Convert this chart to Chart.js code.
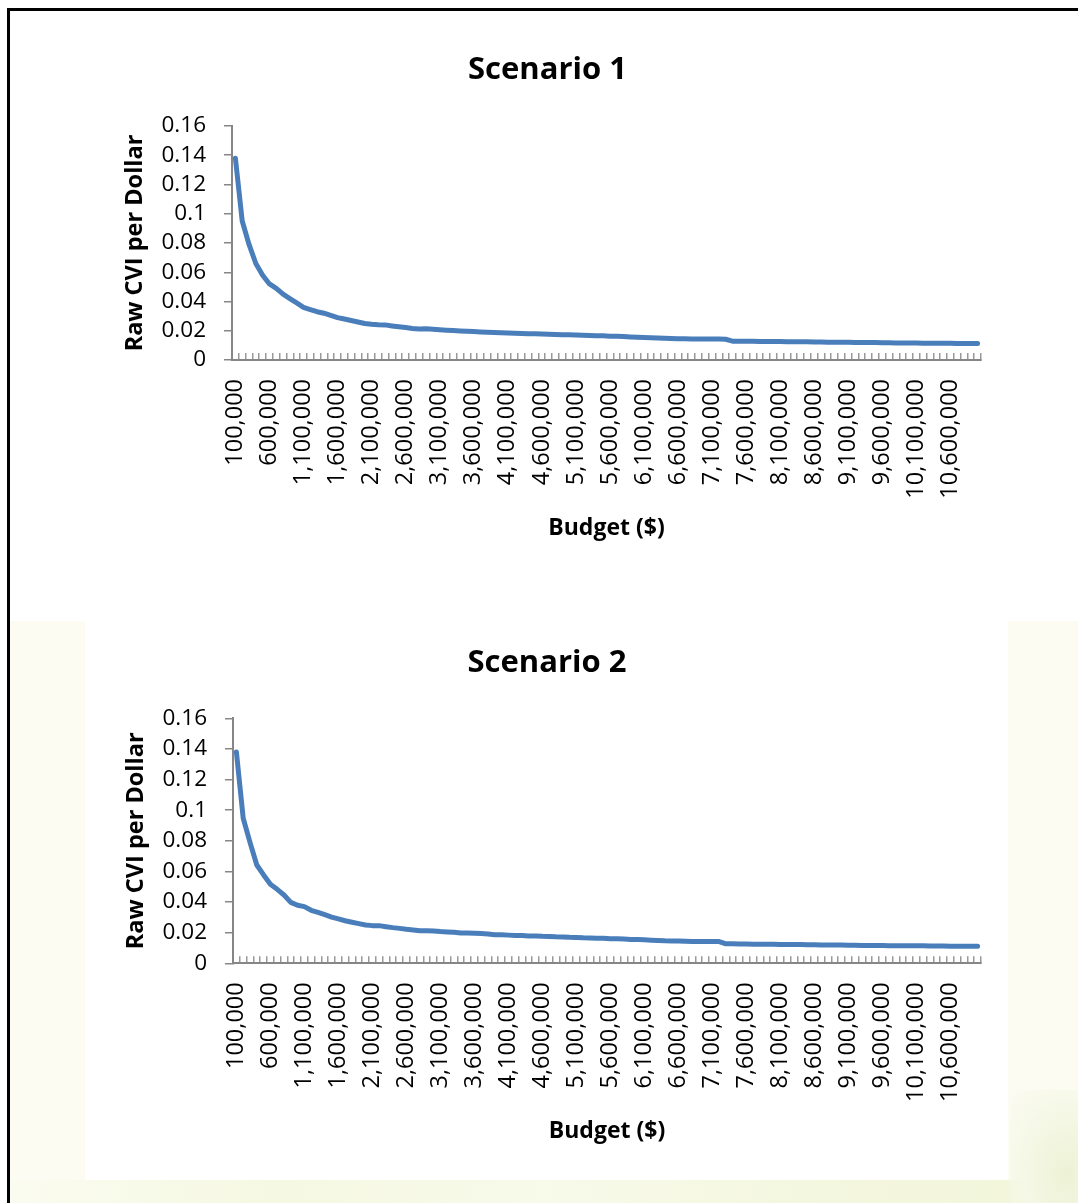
<!DOCTYPE html>
<html>
<head>
<meta charset="utf-8">
<script src="https://cdn.jsdelivr.net/npm/chart.js@4.4.1/dist/chart.umd.min.js"></script>
<style>
  html, body { margin:0; padding:0; background:#ffffff; }
  #page { position:relative; width:1078px; height:1203px; overflow:hidden; background:#ffffff; }
  .layer { position:absolute; }
  canvas { position:absolute; left:0; }
</style>
</head>
<body>
<div id="page">
  <div class="layer" style="left:10px;top:621px;width:1068px;height:582px;background:#fcfcf3;"></div>
  <div class="layer" style="left:10px;top:1180px;width:1068px;height:23px;background:linear-gradient(to right,#fbfcf0 0%,#f5f8e2 25%,#f8faea 50%,#f4f7df 75%,#f2f6da 100%);"></div>
  <div class="layer" style="left:1010px;top:1090px;width:68px;height:113px;background:radial-gradient(ellipse at 85% 75%,#edf2d6 0%,#f5f8e6 55%,rgba(252,252,243,0) 100%);"></div>
  <div class="layer" style="left:85px;top:621px;width:923px;height:559px;background:#ffffff;"></div>
  <div class="layer" style="left:7px;top:8px;width:1075px;height:1200px;border-top:3px solid #000;border-left:3px solid #000;"></div>
  <canvas id="c1" width="1078" height="600" style="top:0px;"></canvas>
  <canvas id="c2" width="1078" height="603" style="top:600px;"></canvas>
</div>
<script>
// ---- Data ----
const budgets = [
  100000, 200000, 300000, 400000, 500000, 600000, 700000, 800000, 900000, 1000000,
  1100000, 1200000, 1300000, 1400000, 1500000, 1600000, 1700000, 1800000, 1900000, 2000000,
  2100000, 2200000, 2300000, 2400000, 2500000, 2600000, 2700000, 2800000, 2900000, 3000000,
  3100000, 3200000, 3300000, 3400000, 3500000, 3600000, 3700000, 3800000, 3900000, 4000000,
  4100000, 4200000, 4300000, 4400000, 4500000, 4600000, 4700000, 4800000, 4900000, 5000000,
  5100000, 5200000, 5300000, 5400000, 5500000, 5600000, 5700000, 5800000, 5900000, 6000000,
  6100000, 6200000, 6300000, 6400000, 6500000, 6600000, 6700000, 6800000, 6900000, 7000000,
  7100000, 7200000, 7300000, 7400000, 7500000, 7600000, 7700000, 7800000, 7900000, 8000000,
  8100000, 8200000, 8300000, 8400000, 8500000, 8600000, 8700000, 8800000, 8900000, 9000000,
  9100000, 9200000, 9300000, 9400000, 9500000, 9600000, 9700000, 9800000, 9900000, 10000000,
  10100000, 10200000, 10300000, 10400000, 10500000, 10600000, 10700000, 10800000, 10900000, 11000000
];
const shownTickLabels = [
  "100,000", "600,000", "1,100,000", "1,600,000", "2,100,000", "2,600,000", "3,100,000",
  "3,600,000", "4,100,000", "4,600,000", "5,100,000", "5,600,000", "6,100,000", "6,600,000",
  "7,100,000", "7,600,000", "8,100,000", "8,600,000", "9,100,000", "9,600,000", "10,100,000", "10,600,000"
];
const yTickValues = [0, 0.02, 0.04, 0.06, 0.08, 0.1, 0.12, 0.14, 0.16];

const scenario1 = [
  0.138, 0.095, 0.079, 0.066, 0.058, 0.052, 0.049, 0.045, 0.042, 0.039,
  0.036, 0.0345, 0.033, 0.032, 0.0305, 0.029, 0.028, 0.027, 0.026, 0.025,
  0.0244, 0.0241, 0.0240, 0.0233, 0.0227, 0.0222, 0.0216, 0.0212, 0.0213, 0.0211,
  0.0207, 0.0204, 0.0201, 0.0199, 0.0197, 0.0195, 0.0192, 0.0190, 0.0188, 0.0186,
  0.0184, 0.0183, 0.0181, 0.0180, 0.0179, 0.0178, 0.0176, 0.0175, 0.0173, 0.0172,
  0.0171, 0.0169, 0.0168, 0.0166, 0.0165, 0.0163, 0.0162, 0.0160, 0.0158, 0.0156,
  0.0154, 0.0152, 0.0150, 0.0148, 0.0147, 0.0146, 0.0145, 0.0144, 0.0144, 0.0143,
  0.0143, 0.0143, 0.0142, 0.0129, 0.0129, 0.0128, 0.0128, 0.0127, 0.0127, 0.0126,
  0.0126, 0.0125, 0.0125, 0.0124, 0.0124, 0.0123, 0.0123, 0.0122, 0.0122, 0.0121,
  0.0121, 0.0120, 0.0120, 0.0119, 0.0119, 0.0118, 0.0118, 0.0117, 0.0117, 0.0116,
  0.0116, 0.0115, 0.0115, 0.0114, 0.0114, 0.0114, 0.0113, 0.0113, 0.0113, 0.0112
];
const scenario2 = [
  0.138, 0.0947, 0.079, 0.0642, 0.0577, 0.0516, 0.0483, 0.0446, 0.0398, 0.0379,
  0.0370, 0.0346, 0.0333, 0.0318, 0.0302, 0.0290, 0.0278, 0.0268, 0.0259, 0.0250,
  0.0246, 0.0246, 0.0239, 0.0233, 0.0228, 0.0222, 0.0218, 0.0213, 0.0213, 0.0211,
  0.0207, 0.0205, 0.0203, 0.0198, 0.0198, 0.0196, 0.0194, 0.0192, 0.0187, 0.0186,
  0.0184, 0.0182, 0.0181, 0.0179, 0.0178, 0.0176, 0.0175, 0.0173, 0.0172, 0.0170,
  0.0169, 0.0167, 0.0166, 0.0164, 0.0163, 0.0161, 0.0160, 0.0158, 0.0156, 0.0155,
  0.0153, 0.0151, 0.0149, 0.0147, 0.0146, 0.0145, 0.0144, 0.0143, 0.0143, 0.0142,
  0.0142, 0.0142, 0.0127, 0.0127, 0.0126, 0.0126, 0.0125, 0.0125, 0.0124, 0.0124,
  0.0123, 0.0123, 0.0122, 0.0122, 0.0121, 0.0121, 0.0120, 0.0120, 0.0119, 0.0119,
  0.0118, 0.0118, 0.0117, 0.0117, 0.0116, 0.0116, 0.0115, 0.0115, 0.0115, 0.0114,
  0.0114, 0.0114, 0.0113, 0.0113, 0.0113, 0.0112, 0.0112, 0.0112, 0.0111, 0.0111
];

const titles = ["Scenario 1", "Scenario 2"];
const yTitle = "Raw CVI per Dollar";
const xTitle = "Budget ($)";

// ---- Rendering ----
const FONT = "'Open Sans', 'DejaVu Sans', sans-serif";
const labels = budgets.map(b => b.toLocaleString('en-US'));
const shownSet = new Set(shownTickLabels);
const axisGray = '#868686';

function makeChart(id, title, values, g) {
  return new Chart(document.getElementById(id), {
    type: 'line',
    data: {
      labels: labels,
      datasets: [{
        data: values,
        borderColor: '#4a7ebb',
        borderWidth: 5,
        pointRadius: 0,
        pointHoverRadius: 0,
        tension: 0,
        fill: false,
        borderCapStyle: 'round',
        borderJoinStyle: 'round'
      }]
    },
    options: {
      responsive: false,
      animation: false,
      devicePixelRatio: 1,
      layout: { padding: g.pad },
      plugins: {
        legend: { display: false },
        tooltip: { enabled: false },
        title: {
          display: true,
          text: title,
          color: '#000',
          font: { family: FONT, size: 31, weight: 'bold', lineHeight: 1.2 },
          padding: g.titlePad
        }
      },
      scales: {
        x: {
          type: 'category',
          offset: true,
          border: { display: true, color: axisGray, width: 2 },
          grid: { offset: true, drawOnChartArea: false, drawTicks: true, tickLength: -7, color: '#999999', lineWidth: 1.5 },
          ticks: {
            autoSkip: false,
            minRotation: 90,
            maxRotation: 90,
            padding: g.xTickPad,
            color: '#000',
            font: { family: FONT, size: 23.5 },
            callback: function(v, i) { const l = this.getLabelForValue(v); return shownSet.has(l) ? l : ''; }
          },
          title: {
            display: true,
            text: xTitle,
            color: '#000',
            font: { family: FONT, size: 23, weight: 'bold', lineHeight: 1.2 },
            padding: { top: 0, bottom: g.xTitlePadBottom }
          },
          afterFit: s => { s.height = g.xHeight; }
        },
        y: {
          min: 0,
          max: 0.16,
          border: { display: true, color: axisGray, width: 2 },
          grid: { drawOnChartArea: false, drawTicks: true, tickLength: 8, color: axisGray, lineWidth: 1.5 },
          afterBuildTicks: s => { s.ticks = yTickValues.map(v => ({ value: v })); },
          ticks: {
            autoSkip: false,
            padding: 18,
            color: '#000',
            font: { family: FONT, size: 22.5 },
            callback: v => String(+(+v).toFixed(2))
          },
          title: {
            display: true,
            text: yTitle,
            color: '#000',
            font: { family: FONT, size: 23.5, weight: 'bold', lineHeight: 1.2 },
            padding: { top: g.yTitlePadTop, bottom: 0 }
          },
          afterFit: s => { s.width = g.yWidth; }
        }
      }
    }
  });
}

makeChart('c1', titles[0], scenario1, {
  pad: { left: 114, right: 97, top: 0, bottom: 40 },
  titlePad: { top: 51.4, bottom: 37.4 },
  yWidth: 118, yTitlePadTop: 7,
  xHeight: 200, xTickPad: 26, xTitlePadBottom: 18.2
});
makeChart('c2', titles[1], scenario2, {
  pad: { left: 113, right: 97, top: 0, bottom: 40 },
  titlePad: { top: 44.8, bottom: 36.3 },
  yWidth: 120, yTitlePadTop: 9,
  xHeight: 199.7, xTickPad: 26, xTitlePadBottom: 17.7
});
</script>
</body>
</html>
